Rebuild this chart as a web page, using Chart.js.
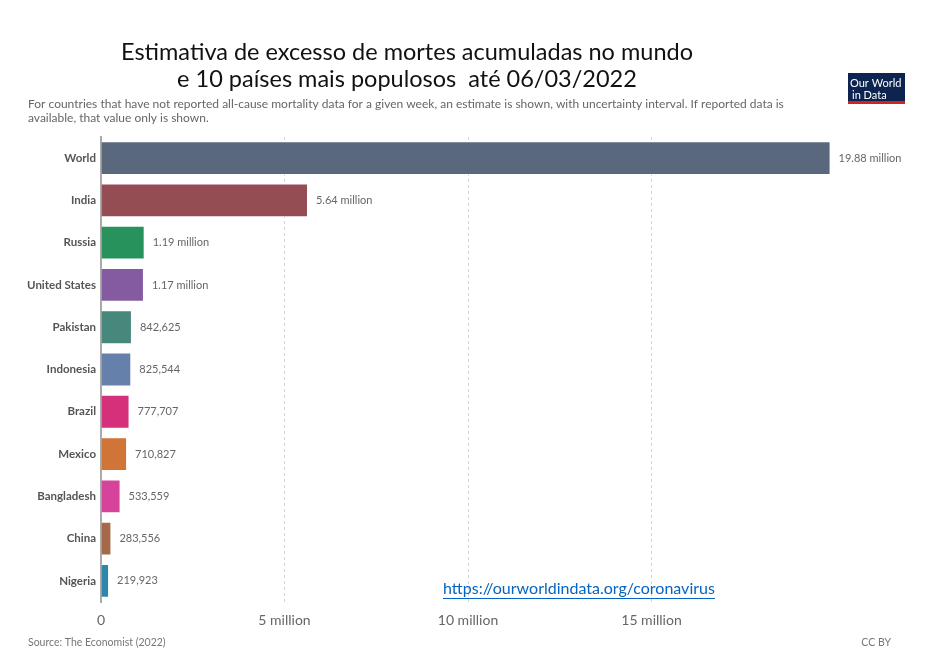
<!DOCTYPE html>
<html>
<head>
<meta charset="utf-8">
<script src="https://cdn.jsdelivr.net/npm/chart.js@4.4.1/dist/chart.umd.min.js"></script>
<style>
  html, body { margin:0; padding:0; background:#fff; }
  #wrap { position:relative; width:948px; height:668px; }
</style>
</head>
<body>
<div id="wrap"><canvas id="c" width="948" height="668"></canvas></div>
<script>
// dados
const paises = ['World','India','Russia','United States','Pakistan','Indonesia','Brazil','Mexico','Bangladesh','China','Nigeria']
const mortes = [19880000, 5640000, 1190000, 1170000, 842625, 825544, 777707, 710827, 533559, 283556, 219923]
const cores  = ['#5a687e','#954d54','#27925c','#845aa1','#46887c','#6580ab','#d5307a','#d07437','#d5449a','#a5694a','#2f86ab']
const ticksX = [0, 5000000, 10000000, 15000000]
const tickLabelsX = ['0','5 million','10 million','15 million']

const fmt = v => v >= 1e6 ? (v/1e6).toFixed(2) + ' million' : v.toLocaleString('en-US')

const textos = {
  id: 'textos',
  afterDraw(chart) {
    const ctx = chart.ctx
    ctx.save()
    // título
    ctx.fillStyle = '#111'
    ctx.font = '23.5px Lato'
    ctx.textAlign = 'center'
    ctx.textBaseline = 'middle'
    ctx.fillText('Estimativa de excesso de mortes acumuladas no mundo', 407, 52)
    ctx.fillText('e 10 países mais populosos  até 06/03/2022', 407, 79)
    // subtítulo
    ctx.textAlign = 'left'
    ctx.fillStyle = '#666'
    ctx.font = '12px Lato'
    ctx.fillText('For countries that have not reported all-cause mortality data for a given week, an estimate is shown, with uncertainty interval. If reported data is', 28, 104)
    ctx.fillText('available, that value only is shown.', 28, 118)
    // logo
    ctx.fillStyle = '#0d2450'
    ctx.fillRect(848, 73, 57, 28)
    ctx.fillStyle = '#ce261e'
    ctx.fillRect(848, 101, 57, 3)
    ctx.fillStyle = '#fff'
    ctx.font = '11px Lato'
    ctx.fillText('Our World', 850, 83)
    ctx.fillText('in Data', 852, 95)
    // rodapé
    ctx.fillStyle = '#777'
    ctx.font = '10.5px Lato'
    ctx.fillText('Source: The Economist (2022)', 28, 643)
    ctx.textAlign = 'right'
    ctx.fillText('CC BY', 891, 643)
    // url
    ctx.textAlign = 'left'
    ctx.fillStyle = '#0563c1'
    ctx.font = '16px Lato'
    const url = 'https://ourworldindata.org/coronavirus'
    ctx.fillText(url, 443, 589)
    const w = ctx.measureText(url).width
    ctx.fillRect(443, 598, w, 1)
    // rótulos das barras
    ctx.fillStyle = '#666'
    ctx.font = '11px Lato'
    chart.getDatasetMeta(0).data.forEach((bar, i) => {
      ctx.fillText(fmt(mortes[i]), bar.x + 8, bar.y)
    })
    ctx.restore()
  }
}

new Chart(document.getElementById('c'), {
  type: 'bar',
  data: {
    labels: paises,
    datasets: [{
      data: mortes,
      backgroundColor: cores,
      borderColor: 'rgba(255,255,255,0.5)',
      borderWidth: 1,
      barPercentage: 0.8,
      categoryPercentage: 1
    }]
  },
  options: {
    indexAxis: 'y',
    responsive: false,
    animation: false,
    devicePixelRatio: 1,
    layout: { padding: { top: 137, right: 113, bottom: 0, left: 0 } },
    plugins: { legend: { display: false }, tooltip: { enabled: false } },
    scales: {
      x: {
        min: 0, max: 20000000,
        afterBuildTicks: s => { s.ticks = ticksX.map(v => ({ value: v })) },
        afterFit: s => { s.height = 66 },
        border: { display: false, dash: [3,3] },
        grid: { color: '#d4d4d4', drawTicks: false },
        ticks: {
          padding: 10, color: '#666', font: { family: 'Lato', size: 14 },
          callback: (v, i) => tickLabelsX[i]
        }
      },
      y: {
        afterFit: s => { s.width = 101 },
        border: { display: true, color: '#aaa', width: 2 },
        grid: { display: false, drawTicks: false, tickLength: 0 },
        ticks: { padding: 5, color: '#555', font: { family: 'Lato', size: 11.5, weight: 'bold' } }
      }
    }
  },
  plugins: [textos]
})
</script>
</body>
</html>
